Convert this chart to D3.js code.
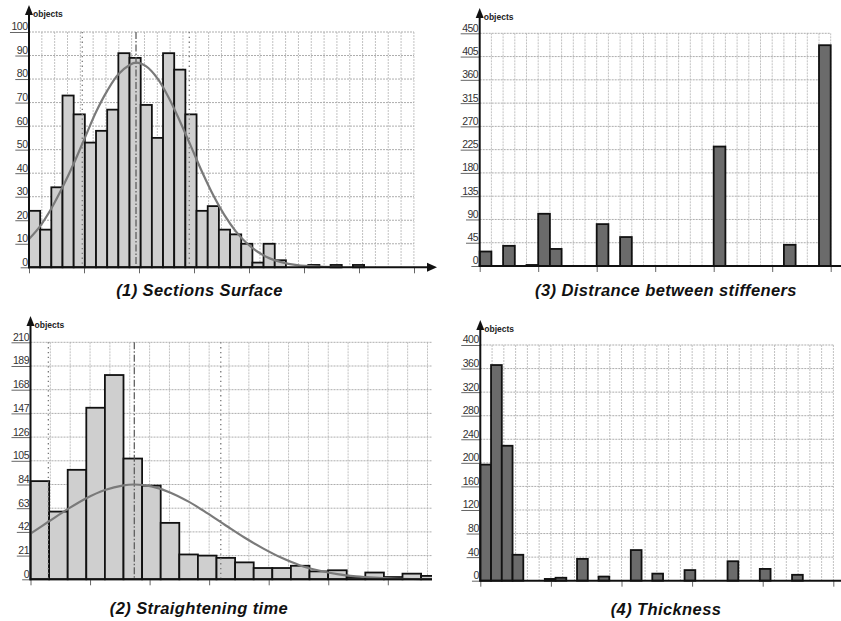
<!DOCTYPE html>
<html>
<head>
<meta charset="utf-8">
<script src="https://cdn.jsdelivr.net/npm/d3@7"></script>
<style>
  body { margin: 0; background: #fff; }
  svg { display: block; }
  text { font-family: Arial, 'Liberation Sans', sans-serif; }
</style>
</head>
<body>
<div id="chart"></div>
<script>
// (1) Sections Surface - counts per bin (bin index = position)
const surfaceCounts = [24, 16, 34, 73, 65, 53, 58, 67, 91, 89, 69, 55, 91, 84, 65,
  24, 26, 16, 14, 10, 2, 10, 3, 0, 0, 1, 0, 1, 0, 1]
const surfaceTicks = [0, 10, 20, 30, 40, 50, 60, 70, 80, 90, 100]
// fitted normal curve: [bin, objects]
const surfaceCurve = [[0, 12], [1, 17.5], [2, 25], [3, 34], [4, 44], [5, 55], [6, 66],
  [7, 75], [8, 82], [9, 86], [9.6, 87], [10.5, 85.4], [11.5, 80.3], [12.5, 72.2],
  [13.5, 62.2], [14.5, 51.4], [15.5, 40.5], [16.5, 30.6], [17.5, 22.2], [18.5, 15.4],
  [19.5, 10.2], [20.5, 6.5], [21.5, 3.9], [22.5, 2.3], [24, 0.9], [26, 0.25], [28, 0.05]]
// -sigma, mean, +sigma (bin units)
const surfaceMarkers = [4.77, 9.58, 14.35]

// (2) Straightening time
const timeCounts = [87, 60, 97, 152, 181, 107, 83, 50, 22, 21, 19, 15, 10, 10, 12, 7, 8,
  2, 6, 2, 5, 3]
const timeTicks = [0, 21, 42, 63, 84, 105, 126, 147, 168, 189, 210]
const timeCurve = [[0, 40.5], [1, 51.4], [2, 62.2], [3, 71.9], [4, 79.2], [5, 83.3],
  [5.6, 84], [6.5, 82.3], [7.5, 77], [8.5, 68.8], [9.5, 58.6], [10.5, 47.7], [11.5, 37],
  [12.5, 27.4], [13.5, 19], [14.5, 12.3], [15.5, 7.8], [16.5, 4.6], [17.5, 2.6],
  [18.5, 1.4], [19.5, 0.7], [21, 0.2], [22, 0.1]]
const timeMarkers = [0.96, 5.58, 10.23]

// (3) Distance between stiffeners
const spacingBins = [0, 2, 4, 5, 6, 10, 12, 20, 26, 29]
const spacingCounts = [28, 39, 2, 101, 33, 81, 56, 231, 41, 427]
const spacingTicks = [0, 45, 90, 135, 180, 225, 270, 315, 360, 405, 450]

// (4) Thickness
const thickBins = [0, 1, 2, 3, 6, 7, 9, 11, 14, 16, 19, 23, 26, 29]
const thickCounts = [197, 366, 229, 44, 3, 5, 37, 7, 52, 12, 18, 33, 20, 10]
const thickTicks = [0, 40, 80, 120, 160, 200, 240, 280, 320, 360, 400]

const panels = [
  {
    id: 'p1', title: '(1) Sections Surface', bins: null, counts: surfaceCounts,
    ticks: surfaceTicks, curve: surfaceCurve, markers: surfaceMarkers,
    left: 29, right: 414, axisEnd: 437, arrow: true, clipRight: 441,
    top: 32, zero: 267.3, arrowTip: 5,
    binPx: 11.17, gridPx: 12.83, tickPx: 55,
    fill: '#cfcfcf', titleX: 199.5, titleY: 296
  },
  {
    id: 'p2', title: '(2) Straightening time', bins: null, counts: timeCounts,
    ticks: timeTicks, curve: timeCurve, markers: timeMarkers,
    left: 30.5, right: 432, axisEnd: 432, arrow: false, clipRight: 432,
    top: 342.3, zero: 579.3, arrowTip: 316,
    binPx: 18.6, gridPx: 19.85, tickPx: 59.55,
    fill: '#cfcfcf', titleX: 199, titleY: 614
  },
  {
    id: 'p3', title: '(3) Distrance between stiffeners', bins: spacingBins, counts: spacingCounts,
    ticks: spacingTicks, curve: null, markers: null,
    left: 479.7, right: 830.7, axisEnd: 841, arrow: false, clipRight: 841,
    top: 33.3, zero: 266, arrowTip: 8,
    binPx: 11.7, gridPx: 11.7, tickPx: 58.5,
    fill: '#6b6b6b', titleX: 666, titleY: 296
  },
  {
    id: 'p4', title: '(4) Thickness', bins: thickBins, counts: thickCounts,
    ticks: thickTicks, curve: null, markers: null,
    left: 480.3, right: 833.3, axisEnd: 841, arrow: false, clipRight: 841,
    top: 345, zero: 580.7, arrowTip: 320,
    binPx: 10.75, gridPx: 11.77, tickPx: 70.6,
    fill: '#6b6b6b', titleX: 666, titleY: 615
  }
]

const svg = d3.select('#chart')
  .append('svg')
  .attr('width', 841)
  .attr('height', 621)

const defs = svg.append('defs')

panels.forEach(drawPanel)

function drawPanel(p) {
  const g = svg.append('g').attr('class', p.id)

  const nBins = (p.right - p.left) / p.binPx
  const x = d3.scaleLinear().domain([0, nBins]).range([p.left, p.right])
  const y = d3.scaleLinear()
    .domain([0, p.ticks[p.ticks.length - 1]])
    .range([p.zero, p.top])

  defs.append('clipPath').attr('id', 'clip-' + p.id)
    .append('rect')
    .attr('x', p.left - 5).attr('y', 0)
    .attr('width', p.clipRight - p.left + 5).attr('height', 621)

  // vertical grid
  const cols = d3.range(p.left + p.gridPx, p.right + 1, p.gridPx)
  g.append('g')
    .selectAll('line')
    .data(cols)
    .enter()
    .append('line')
    .attr('x1', d => d).attr('x2', d => d)
    .attr('y1', p.top).attr('y2', p.zero)
    .attr('stroke', '#c2c2c2')
    .attr('stroke-dasharray', '2,1')

  // horizontal grid
  g.append('g')
    .selectAll('line')
    .data(p.ticks.slice(1))
    .enter()
    .append('line')
    .attr('x1', p.left).attr('x2', p.right)
    .attr('y1', d => y(d)).attr('y2', d => y(d))
    .attr('stroke', '#adadad')
    .attr('stroke-dasharray', '2,1')

  // bars
  const bars = p.counts.map((c, i) => ({ bin: p.bins ? p.bins[i] : i, count: c }))
  g.append('g')
    .attr('clip-path', 'url(#clip-' + p.id + ')')
    .selectAll('rect')
    .data(bars.filter(d => d.count > 0))
    .enter()
    .append('rect')
    .attr('x', d => x(d.bin))
    .attr('width', x(1) - x(0))
    .attr('y', d => y(d.count))
    .attr('height', d => y(0) - y(d.count))
    .attr('fill', p.fill)
    .attr('stroke', '#111')
    .attr('stroke-width', 1.8)

  // mean / sigma markers
  if (p.markers) {
    g.append('g')
      .selectAll('line')
      .data(p.markers)
      .enter()
      .append('line')
      .attr('x1', d => x(d)).attr('x2', d => x(d))
      .attr('y1', p.top).attr('y2', p.zero)
      .attr('stroke', (d, i) => i === 1 ? '#555' : '#777')
      .attr('stroke-width', (d, i) => i === 1 ? 1.2 : 1.3)
      .attr('stroke-dasharray', (d, i) => i === 1 ? '7,2,1.5,2' : '1.3,3.5')
  }

  // fitted curve
  if (p.curve) {
    const line = d3.line()
      .x(d => x(d[0]))
      .y(d => y(d[1]))
      .curve(d3.curveCatmullRom.alpha(0.5))
    g.append('path')
      .datum(p.curve)
      .attr('clip-path', 'url(#clip-' + p.id + ')')
      .attr('d', line)
      .attr('fill', 'none')
      .attr('stroke', '#7a7a7a')
      .attr('stroke-width', 2.2)
  }

  // x axis (no labels)
  const xTicks = d3.range(0, nBins + 0.01, p.tickPx / p.binPx)
  const xAxis = d3.axisBottom(x)
    .tickValues(xTicks)
    .tickSize(6)
    .tickFormat('')
  g.append('g')
    .attr('class', 'x-axis')
    .attr('transform', 'translate(0,' + p.zero + ')')
    .call(xAxis)
    .call(a => a.select('.domain').remove())
    .call(a => a.selectAll('.tick line').attr('stroke', '#666'))

  g.append('line')
    .attr('x1', p.left - 1).attr('x2', p.arrow ? p.axisEnd - 6 : p.axisEnd)
    .attr('y1', p.zero).attr('y2', p.zero)
    .attr('stroke', '#111').attr('stroke-width', 2)

  if (p.arrow) {
    g.append('path')
      .attr('d', `M${p.axisEnd},${p.zero} L${p.axisEnd - 10},${p.zero - 4.5} L${p.axisEnd - 10},${p.zero + 4.5} Z`)
      .attr('fill', '#111')
  }

  // y axis
  const yAxis = d3.axisLeft(y)
    .tickValues(p.ticks)
    .tickSize(0)
    .tickFormat(d3.format('d'))
  const ya = g.append('g')
    .attr('class', 'y-axis')
    .attr('transform', 'translate(' + p.left + ',0)')
    .call(yAxis)
  ya.select('.domain').remove()
  ya.selectAll('.tick text')
    .attr('x', -1.5)
    .attr('dy', '-0.2em')
    .attr('fill', '#333')
    .attr('font-size', 10.5)
    .attr('letter-spacing', -0.5)
  ya.selectAll('.tick').each(function () {
    const t = d3.select(this)
    const w = t.select('text').node().getComputedTextLength()
    t.append('line')
      .attr('x1', -w - 3).attr('x2', 0)
      .attr('y1', 0).attr('y2', 0)
      .attr('stroke', '#666')
  })

  g.append('line')
    .attr('x1', p.left).attr('x2', p.left)
    .attr('y1', p.zero + 1).attr('y2', p.arrowTip + 8)
    .attr('stroke', '#111').attr('stroke-width', 2)
  g.append('path')
    .attr('d', `M${p.left},${p.arrowTip} L${p.left - 4},${p.arrowTip + 10} L${p.left + 4},${p.arrowTip + 10} Z`)
    .attr('fill', '#111')

  g.append('text')
    .attr('x', p.left + 4)
    .attr('y', p.arrowTip + 12)
    .attr('font-size', 8.5)
    .attr('font-weight', 'bold')
    .attr('fill', '#222')
    .text('objects')

  // title
  g.append('text')
    .attr('x', p.titleX)
    .attr('y', p.titleY)
    .attr('text-anchor', 'middle')
    .attr('font-size', 16.5)
    .attr('font-weight', 'bold')
    .attr('font-style', 'italic')
    .attr('letter-spacing', 0.4)
    .attr('fill', '#111')
    .text(p.title)
}
</script>
</body>
</html>
